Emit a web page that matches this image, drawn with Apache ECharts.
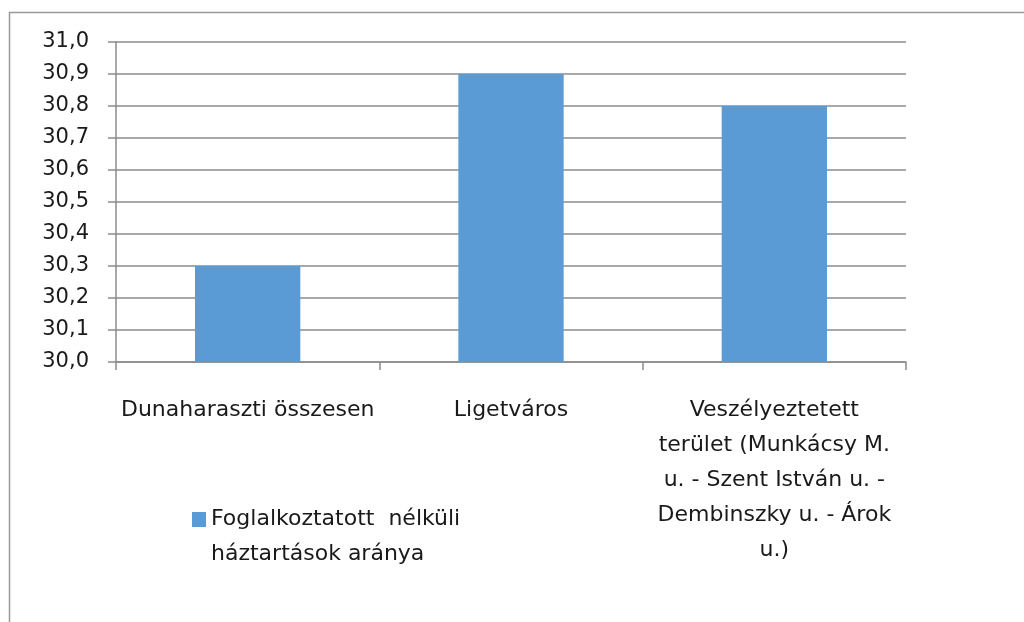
<!DOCTYPE html>
<html>
<head>
<meta charset="utf-8">
<script src="https://cdn.jsdelivr.net/npm/echarts@6/dist/echarts.min.js"></script>
<style>
  html, body { margin: 0; padding: 0; background: #fff; }
  #chart { width: 1024px; height: 622px; }
</style>
</head>
<body>
<div id="chart"></div>
<script>
// categories (line breaks as in the picture)
var categories = [
  'Dunaharaszti összesen',
  'Ligetváros',
  'Veszélyeztetett\nterület (Munkácsy M.\nu. - Szent István u. -\nDembinszky u. - Árok\nu.)'
];
var seriesName = 'Foglalkoztatott  nélküli háztartások aránya';
var values = [30.3, 30.9, 30.8];
var yMin = 30.0, yMax = 31.0, yStep = 0.1;

var FONT = '"DejaVu Sans", Tahoma, sans-serif';
var TXT = '#1a1a1a';
var LINE = '#8c8c8c';

var chart = echarts.init(document.getElementById('chart'));
chart.setOption({
  animation: false,
  backgroundColor: '#fff',
  graphic: [{
    type: 'rect',
    shape: { x: 9.5, y: 12.5, width: 1100, height: 700 },
    style: { fill: 'none', stroke: '#999', lineWidth: 1.5 },
    silent: true
  }],
  grid: { left: 116, top: 42, right: 118, bottom: 260 },
  legend: {
    left: 187, top: 497,
    // square sits at the top of a tall icon box so it lines up with the first text line
    icon: 'path://M0,0L14,0L14,15L0,15Z M0,50L0.01,50',
    itemWidth: 14, itemHeight: 50, itemGap: 8,
    formatter: function (n) { return n.replace('nélküli ', 'nélküli\n'); },
    textStyle: {
      fontFamily: FONT, fontSize: 22, color: TXT, lineHeight: 35
    }
  },
  xAxis: {
    type: 'category',
    data: categories,
    axisLine: { lineStyle: { color: LINE, width: 1.5 } },
    axisTick: { show: true, length: 8, alignWithLabel: false, lineStyle: { color: LINE, width: 1.5 } },
    axisLabel: {
      interval: 0, margin: 31, fontFamily: FONT, fontSize: 22,
      color: TXT, lineHeight: 35, align: 'center'
    }
  },
  yAxis: {
    type: 'value',
    min: yMin, max: yMax, interval: yStep,
    axisLine: { show: true, lineStyle: { color: LINE, width: 1.5 } },
    axisTick: { show: true, length: 8, lineStyle: { color: LINE, width: 1.5 } },
    splitLine: { lineStyle: { color: LINE, width: 1.5 } },
    axisLabel: {
      margin: 27, fontFamily: FONT, fontSize: 21, color: TXT,
      formatter: function (v) { return v.toFixed(1).replace('.', ','); }
    }
  },
  series: [{
    name: seriesName,
    type: 'bar',
    data: values,
    barWidth: '40%',
    itemStyle: { color: '#5b9bd5' }
  }]
});
</script>
</body>
</html>
